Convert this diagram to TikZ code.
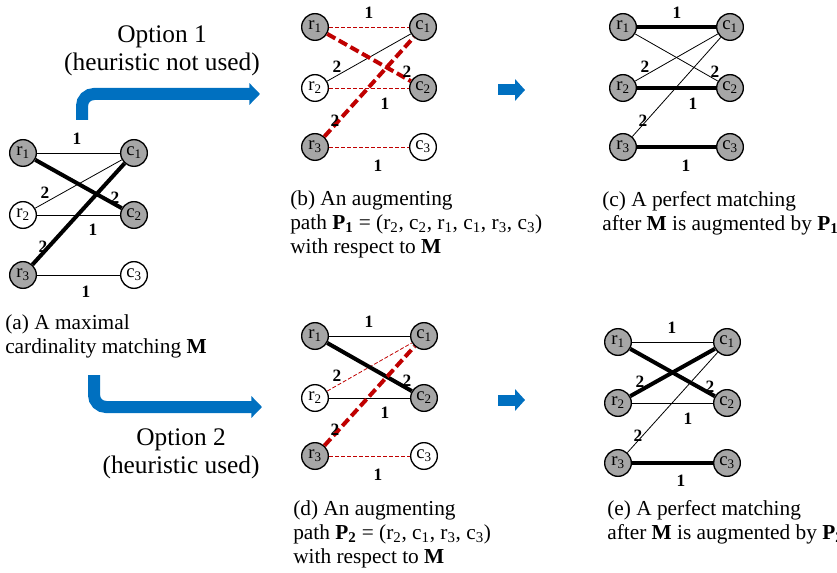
\documentclass[tikz,border=0pt]{standalone}
\usepackage{fontspec}
\setmainfont{Liberation Serif}
\usetikzlibrary{arrows.meta}

\definecolor{vtxgray}{RGB}{166,166,166}
\definecolor{augred}{RGB}{192,0,0}
\definecolor{optblue}{RGB}{0,112,192}

\tikzset{
  vtx/.style={circle, draw, line width=1pt, minimum size=20pt, inner sep=0pt,
    font=\fontsize{14}{14}\selectfont},
  covered/.style={vtx, fill=vtxgray},
  exposed/.style={vtx, fill=white},
  wt/.style={inner sep=0pt, font=\fontsize{13}{13}\selectfont\bfseries},
  thin/.style={line width=0.6pt},
  matched/.style={line width=3pt},
  alt/.style={augred, line width=0.6pt, dash pattern=on 3pt off 1.5pt},
  aug/.style={augred, line width=3pt, dash pattern=on 7pt off 3pt},
  caption/.style={anchor=north west, align=left, inner sep=0pt,
    font=\fontsize{16}{18}\selectfont},
  option/.style={align=center, inner sep=0pt, font=\fontsize{19}{21}\selectfont},
  bendarrow/.style={optblue, line width=9pt, rounded corners=9pt,
    -{Triangle[width=16pt,length=8pt]}},
  nextarrow/.style={optblue, line width=8.25pt, -{Triangle[width=16pt,length=7.5pt]}},
}

\newcommand{\wts}[1]{%
  \foreach \x/\y/\w [count=\i] in {54/-14/1, 22/40/2, 92/45/2, 70/77/1, 20/94/2, 63/139/1}
    \node[wt] (#1-w\i) at (\x,\y) {\w};}

\begin{document}
\begin{tikzpicture}[x=0.75pt, y=-0.75pt]
  \useasboundingbox (0,0) rectangle (837,573);

  % (a) maximal matching M
  \begin{scope}[shift={(23,153)}]
    \node[covered] (a-r1) at (0,0) {r\textsubscript{1}};
    \node[covered] (a-c1) at (111,0) {c\textsubscript{1}};
    \node[exposed] (a-r2) at (0,62) {r\textsubscript{2}};
    \node[covered] (a-c2) at (111,62) {c\textsubscript{2}};
    \node[covered] (a-r3) at (0,122) {r\textsubscript{3}};
    \node[exposed] (a-c3) at (111,122) {c\textsubscript{3}};
    \draw[thin] (a-r1) -- (a-c1);
    \draw[thin] (a-r2) -- (a-c1);
    \draw[thin] (a-r2) -- (a-c2);
    \draw[thin] (a-r3) -- (a-c3);
    \draw[matched] (a-r1) -- (a-c2);
    \draw[matched] (a-r3) -- (a-c1);
    \wts{a}
  \end{scope}
  \node[caption] (cap-a) at (5,314) {(a) A maximal\\cardinality matching \textbf{M}};

  % (b) augmenting path P1
  \begin{scope}[shift={(315,27)}]
    \node[covered] (b-r1) at (0,0) {r\textsubscript{1}};
    \node[covered] (b-c1) at (108,0) {c\textsubscript{1}};
    \node[exposed] (b-r2) at (0,61) {r\textsubscript{2}};
    \node[covered] (b-c2) at (108,61) {c\textsubscript{2}};
    \node[covered] (b-r3) at (0,120) {r\textsubscript{3}};
    \node[exposed] (b-c3) at (108,120) {c\textsubscript{3}};
    \draw[thin] (b-r2) -- (b-c1);
    \draw[alt] (b-r1) -- (b-c1);
    \draw[alt] (b-r2) -- (b-c2);
    \draw[alt] (b-r3) -- (b-c3);
    \draw[aug] (b-r1) -- (b-c2);
    \draw[aug] (b-r3) -- (b-c1);
    \wts{b}
  \end{scope}
  \node[caption] (cap-b) at (290,190) {(b) An augmenting\\
    path \textbf{P\textsubscript{1}} = (r\textsubscript{2}, c\textsubscript{2}, r\textsubscript{1}, c\textsubscript{1}, r\textsubscript{3}, c\textsubscript{3})\\
    with respect to \textbf{M}};

  % (c) perfect matching after P1
  \begin{scope}[shift={(623,27)}]
    \node[covered] (c-r1) at (0,0) {r\textsubscript{1}};
    \node[covered] (c-c1) at (107,0) {c\textsubscript{1}};
    \node[covered] (c-r2) at (0,61) {r\textsubscript{2}};
    \node[covered] (c-c2) at (107,61) {c\textsubscript{2}};
    \node[covered] (c-r3) at (0,120) {r\textsubscript{3}};
    \node[covered] (c-c3) at (107,120) {c\textsubscript{3}};
    \draw[thin] (c-r1) -- (c-c2);
    \draw[thin] (c-r2) -- (c-c1);
    \draw[thin] (c-r3) -- (c-c1);
    \draw[matched] (c-r1) -- (c-c1);
    \draw[matched] (c-r2) -- (c-c2);
    \draw[matched] (c-r3) -- (c-c3);
    \wts{c}
  \end{scope}
  \node[caption] (cap-c) at (602,191) {(c) A perfect matching\\
    after \textbf{M} is augmented by \textbf{P\textsubscript{1}}};

  % (d) augmenting path P2
  \begin{scope}[shift={(315,336)}]
    \node[covered] (d-r1) at (0,0) {r\textsubscript{1}};
    \node[covered] (d-c1) at (109,0) {c\textsubscript{1}};
    \node[exposed] (d-r2) at (0,62) {r\textsubscript{2}};
    \node[covered] (d-c2) at (109,62) {c\textsubscript{2}};
    \node[covered] (d-r3) at (0,120) {r\textsubscript{3}};
    \node[exposed] (d-c3) at (109,120) {c\textsubscript{3}};
    \draw[thin] (d-r1) -- (d-c1);
    \draw[thin] (d-r2) -- (d-c2);
    \draw[alt] (d-r2) -- (d-c1);
    \draw[alt] (d-r3) -- (d-c3);
    \draw[matched] (d-r1) -- (d-c2);
    \draw[aug] (d-r3) -- (d-c1);
    \wts{d}
  \end{scope}
  \node[caption] (cap-d) at (293,500) {(d) An augmenting\\
    path \textbf{P\textsubscript{2}} = (r\textsubscript{2}, c\textsubscript{1}, r\textsubscript{3}, c\textsubscript{3})\\
    with respect to \textbf{M}};

  % (e) perfect matching after P2
  \begin{scope}[shift={(618,342)}]
    \node[covered] (e-r1) at (0,0) {r\textsubscript{1}};
    \node[covered] (e-c1) at (109,0) {c\textsubscript{1}};
    \node[covered] (e-r2) at (0,61) {r\textsubscript{2}};
    \node[covered] (e-c2) at (109,61) {c\textsubscript{2}};
    \node[covered] (e-r3) at (0,121) {r\textsubscript{3}};
    \node[covered] (e-c3) at (109,121) {c\textsubscript{3}};
    \draw[thin] (e-r1) -- (e-c1);
    \draw[thin] (e-r2) -- (e-c2);
    \draw[thin] (e-r3) -- (e-c1);
    \draw[matched] (e-r1) -- (e-c2);
    \draw[matched] (e-r2) -- (e-c1);
    \draw[matched] (e-r3) -- (e-c3);
    \wts{e}
  \end{scope}
  \node[caption] (cap-e) at (607,500) {(e) A perfect matching\\
    after \textbf{M} is augmented by \textbf{P\textsubscript{2}}};

  % the two options
  \node[option] (opt1) at (162,51) {Option 1\\(heuristic not used)};
  \node[option] (opt2) at (181,454) {Option 2\\(heuristic used)};
  \coordinate (opt1-from) at (82,120);
  \coordinate (opt1-to) at (260,94);
  \coordinate (opt2-from) at (94,375);
  \coordinate (opt2-to) at (262,407);
  \draw[bendarrow] (opt1-from) |- (opt1-to);
  \draw[bendarrow] (opt2-from) |- (opt2-to);

  \coordinate (bc-from) at (498,90);
  \coordinate (bc-to) at (525,90);
  \coordinate (de-from) at (498,400);
  \coordinate (de-to) at (525,400);
  \draw[nextarrow] (bc-from) -- (bc-to);
  \draw[nextarrow] (de-from) -- (de-to);
\end{tikzpicture}
\end{document}
